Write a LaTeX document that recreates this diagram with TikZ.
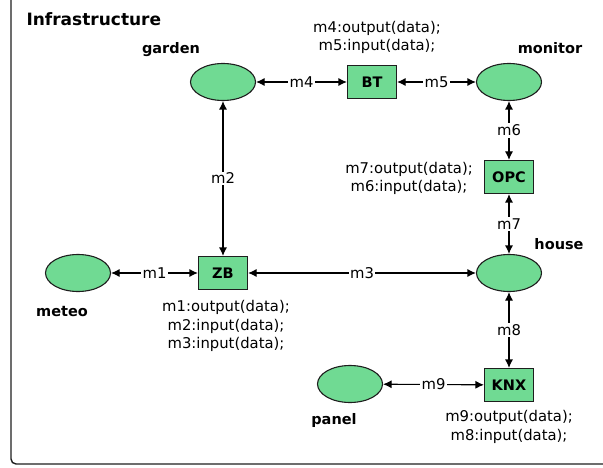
\documentclass[tikz,border=0pt]{standalone}
\usepackage{fontspec}
\setmainfont{DejaVu Sans}
\usetikzlibrary{shapes.geometric,arrows.meta}
\definecolor{nodegreen}{RGB}{112,218,147}
\definecolor{edgedark}{RGB}{30,30,30}
\tikzset{
  dev/.style={ellipse,draw=edgedark,fill=nodegreen,line width=1.1pt,
    minimum width=65pt,minimum height=37pt,inner sep=0pt},
  gw/.style={rectangle,draw=edgedark,fill=nodegreen,line width=1.1pt,
    minimum width=49pt,minimum height=33pt,inner sep=0pt,
    font=\fontsize{14.5}{16}\selectfont\bfseries},
  devname/.style={font=\fontsize{14.5}{17}\selectfont\bfseries},
  note/.style={align=center,font=\fontsize{14.8}{18.5}\selectfont},
  link/.style={>={Latex[length=8.5pt,width=8pt]},<->,
    line width=1.1pt,draw=black},
  lbl/.style={fill=white,inner sep=1.5pt,font=\fontsize{14.8}{17}\selectfont}
}
\begin{document}
\begin{tikzpicture}[x=1pt,y=-1pt]
\useasboundingbox (0,0) rectangle (603,468);
\clip (0,0) rectangle (603,468);
% frame of the infrastructure package
\draw[draw=edgedark,line width=1.4pt,rounded corners=5pt] (11,-20) rectangle (625,464);
\node[anchor=west,font=\fontsize{17}{20}\selectfont\bfseries] (title) at (23,19) {Infrastructure};

% devices
\node[dev] (garden)  at (223,82) {};
\node[dev] (monitor) at (509,82) {};
\node[dev] (house)   at (509,273) {};
\node[dev] (meteo)   at (78,273) {};
\node[dev] (panel)   at (350,384) {};

% gateways
\node[gw] (bt)  at (372,82)  {BT};
\node[gw] (opc) at (509,177) {OPC};
\node[gw] (zb)  at (223,273) {ZB};
\node[gw] (knx) at (509,385) {KNX};

% device names
\node[devname] (gardenname)  at (171,50)  {garden};
\node[devname] (monitorname) at (550,48)  {monitor};
\node[devname] (housename)   at (559,244) {house};
\node[devname] (meteoname)   at (62,312)  {meteo};
\node[devname] (panelname)   at (334,420) {panel};

% gateway interfaces
\node[note] (btnote)  at (377,37.5) {m4:output(data);\\m5:input(data);};
\node[note] (opcnote) at (409,178.5) {m7:output(data);\\m6:input(data);};
\node[note] (zbnote)  at (226,326) {m1:output(data);\\m2:input(data);\\m3:input(data);};
\node[note] (knxnote) at (509,427) {m9:output(data);\\m8:input(data);};

% message links
\draw[link] (garden) -- node[lbl] {m4} (bt);
\draw[link] (bt) -- node[lbl] {m5} (monitor);
\draw[link] (monitor) -- node[lbl] {m6} (opc);
\draw[link] (opc) -- node[lbl] {m7} (house);
\draw[link] (garden) -- node[lbl] {m2} (zb);
\draw[link] (meteo) -- node[lbl] {m1} (zb);
\draw[link] (zb) -- node[lbl] {m3} (house);
\draw[link] (house) -- node[lbl] {m8} (knx);
\draw[link] (panel) -- node[lbl] {m9} (knx);
\end{tikzpicture}
\end{document}
